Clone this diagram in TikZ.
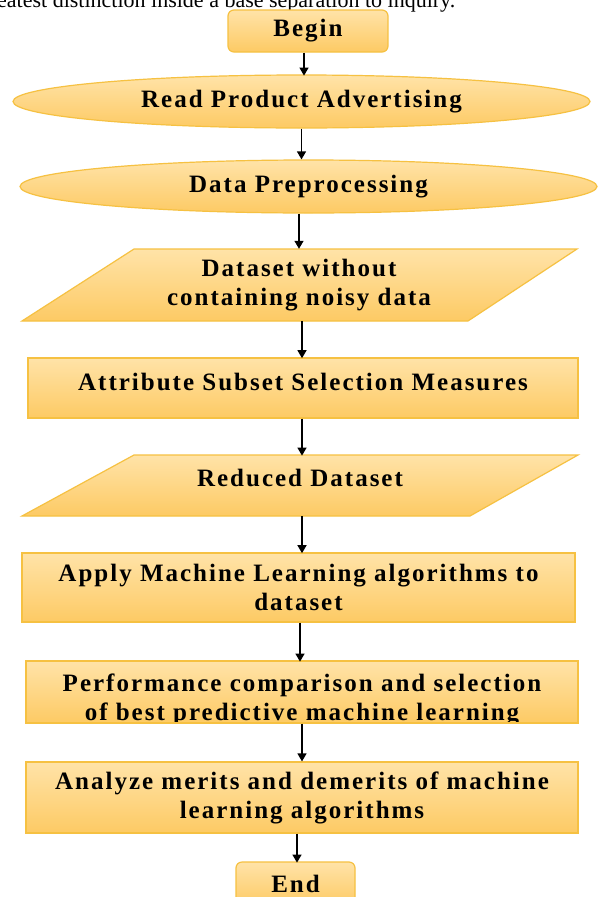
\documentclass[tikz,border=0pt]{standalone}
\usepackage{fontspec}
\setmainfont{Liberation Serif}
\newfontfamily\boxfont[LetterSpace=8]{Liberation Serif}
\usetikzlibrary{shapes.geometric,arrows.meta}
\definecolor{fillt}{HTML}{FFE3A8}
\definecolor{fillb}{HTML}{FDCA64}
\definecolor{bordc}{HTML}{F6C142}
\tikzset{
  shapefill/.style={draw=bordc, line width=1.2pt, top color=fillt, bottom color=fillb},
  box/.style={shapefill, inner sep=0pt, align=center, text=black,
    font=\boxfont\bfseries\fontsize{25}{29}\selectfont},
  ghost/.style={inner sep=0pt, minimum width=10pt, align=center, text=black,
    font=\boxfont\bfseries\fontsize{25}{29}\selectfont},
  arr/.style={line width=1.3pt, -{Triangle[length=8pt,width=9pt]}}
}
\begin{document}
\begin{tikzpicture}[x=1pt,y=-1pt]
\useasboundingbox (0,0) rectangle (602,897);
\fill[white] (0,0) rectangle (602,897);
\node[anchor=base west, inner sep=0pt, font=\fontsize{22}{26}\selectfont] (top) at (-3,7) {eatest distinction inside a base separation to inquiry.};
\node[box, rounded corners=6pt, minimum width=160pt, minimum height=42pt] (begin) at (308,31) {Begin};
\node[box, ellipse, minimum width=577pt, minimum height=53pt] (e1) at (301.5,101.5) {Read Product Advertising};
\node[box, ellipse, minimum width=577pt, minimum height=53pt] (e2) at (308.5,186.5) {Data Preprocessing};
\path[shapefill] (134,249) -- (577,249) -- (468,321) -- (22,321) -- cycle;
\node[ghost, minimum height=72pt] (p1) at (299,285) {Dataset without\\containing noisy data};
\node[box, minimum width=550pt, minimum height=60pt] (r1) at (303,388) {\raisebox{13pt}{Attribute Subset Selection Measures}};
\path[shapefill] (134,455) -- (578,455) -- (470,516) -- (22,516) -- cycle;
\node[ghost, minimum height=61pt] (p2) at (300,485.5) {\raisebox{15pt}{Reduced Dataset}};
\node[box, minimum width=553pt, minimum height=69pt] (r2) at (298.5,587.5) {Apply Machine Learning algorithms to\\dataset};
\node[box, minimum width=552pt, minimum height=62pt,
  path picture={\node[ghost] at ([yshift=-7.5pt]path picture bounding box.center) {Performance comparison and selection\\of best predictive machine learning};}] (r3) at (302,692) {};
\node[box, minimum width=552pt, minimum height=71pt] (r4) at (302,797.5) {Analyze merits and demerits of machine\\learning algorithms};
\node[box, rounded corners=6pt, minimum width=119pt, minimum height=44pt] (end) at (295.5,884) {End};
\draw[arr] (begin.south) ++(-4pt,0) -- +(0,-23pt);
\draw[arr] (e1.south) -- (e1.south |- e2.north);
\draw[arr] (p1.north |- e2.south) -- (p1.north);
\draw[arr] (p1.south) ++(3pt,0) -- +(0,-37pt);
\draw[arr] (r1.south) ++(-1pt,0) -- +(0,-37pt);
\draw[arr] (p2.south) ++(2pt,0) -- +(0,-37pt);
\draw[arr] (r2.south) ++(1.5pt,0) -- +(0,-39pt);
\draw[arr] (r3.south) -- (r3.south |- r4.north);
\draw[arr] (r4.south) ++(-5pt,0) -- +(0,-29pt);
\end{tikzpicture}
\end{document}
